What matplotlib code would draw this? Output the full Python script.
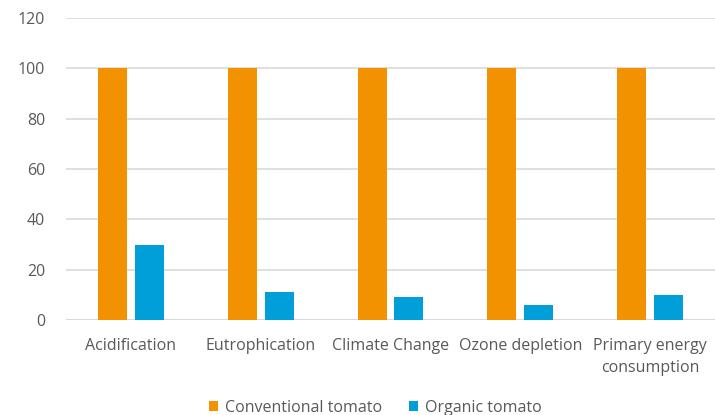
import numpy as np
import matplotlib.pyplot as plt

categories = ["Acidification", "Eutrophication", "Climate Change", "Ozone depletion",
              "Primary energy\nconsumption"]
conventional = [100, 100, 100, 100, 100]
organic = [30, 11, 9, 6, 10]

plt.rcParams['font.family'] = ['Open Sans', 'DejaVu Sans']

fig = plt.figure(figsize=(7.15, 4.15), dpi=100)
ax = fig.add_axes([66 / 715, 1 - 320 / 415, 649 / 715, 302 / 415])

x = np.arange(len(categories))
w = 0.223
ax.bar(x - 0.142, conventional, w, color="#F39200", label="Conventional tomato", zorder=3)
ax.bar(x + 0.142, organic, w, color="#009FDA", label="Organic tomato", zorder=3)

ax.set_xlim(-0.5, len(categories) - 0.5)
ax.set_ylim(0, 120)
ax.set_yticks(range(0, 121, 20))
ax.set_xticks(x)
ax.set_xticklabels(categories, linespacing=1.5)

ax.grid(axis="y", color="#D9D9D9", linewidth=1.2, zorder=0)
for s in ax.spines.values():
    s.set_visible(False)
ax.tick_params(length=0, colors="#595959", labelsize=11.5)
ax.tick_params(axis="y", pad=15)
ax.tick_params(axis="x", pad=13)
ax.axhline(0, color="#D9D9D9", linewidth=1.5, zorder=2)

fig.legend(loc="center", bbox_to_anchor=(0.525, 0.018), ncol=2, frameon=False,
           fontsize=11.5, labelcolor="#595959", handlelength=0.55, handleheight=0.55,
           handletextpad=0.45, columnspacing=1.7)

fig.savefig("out.png", dpi=100)
